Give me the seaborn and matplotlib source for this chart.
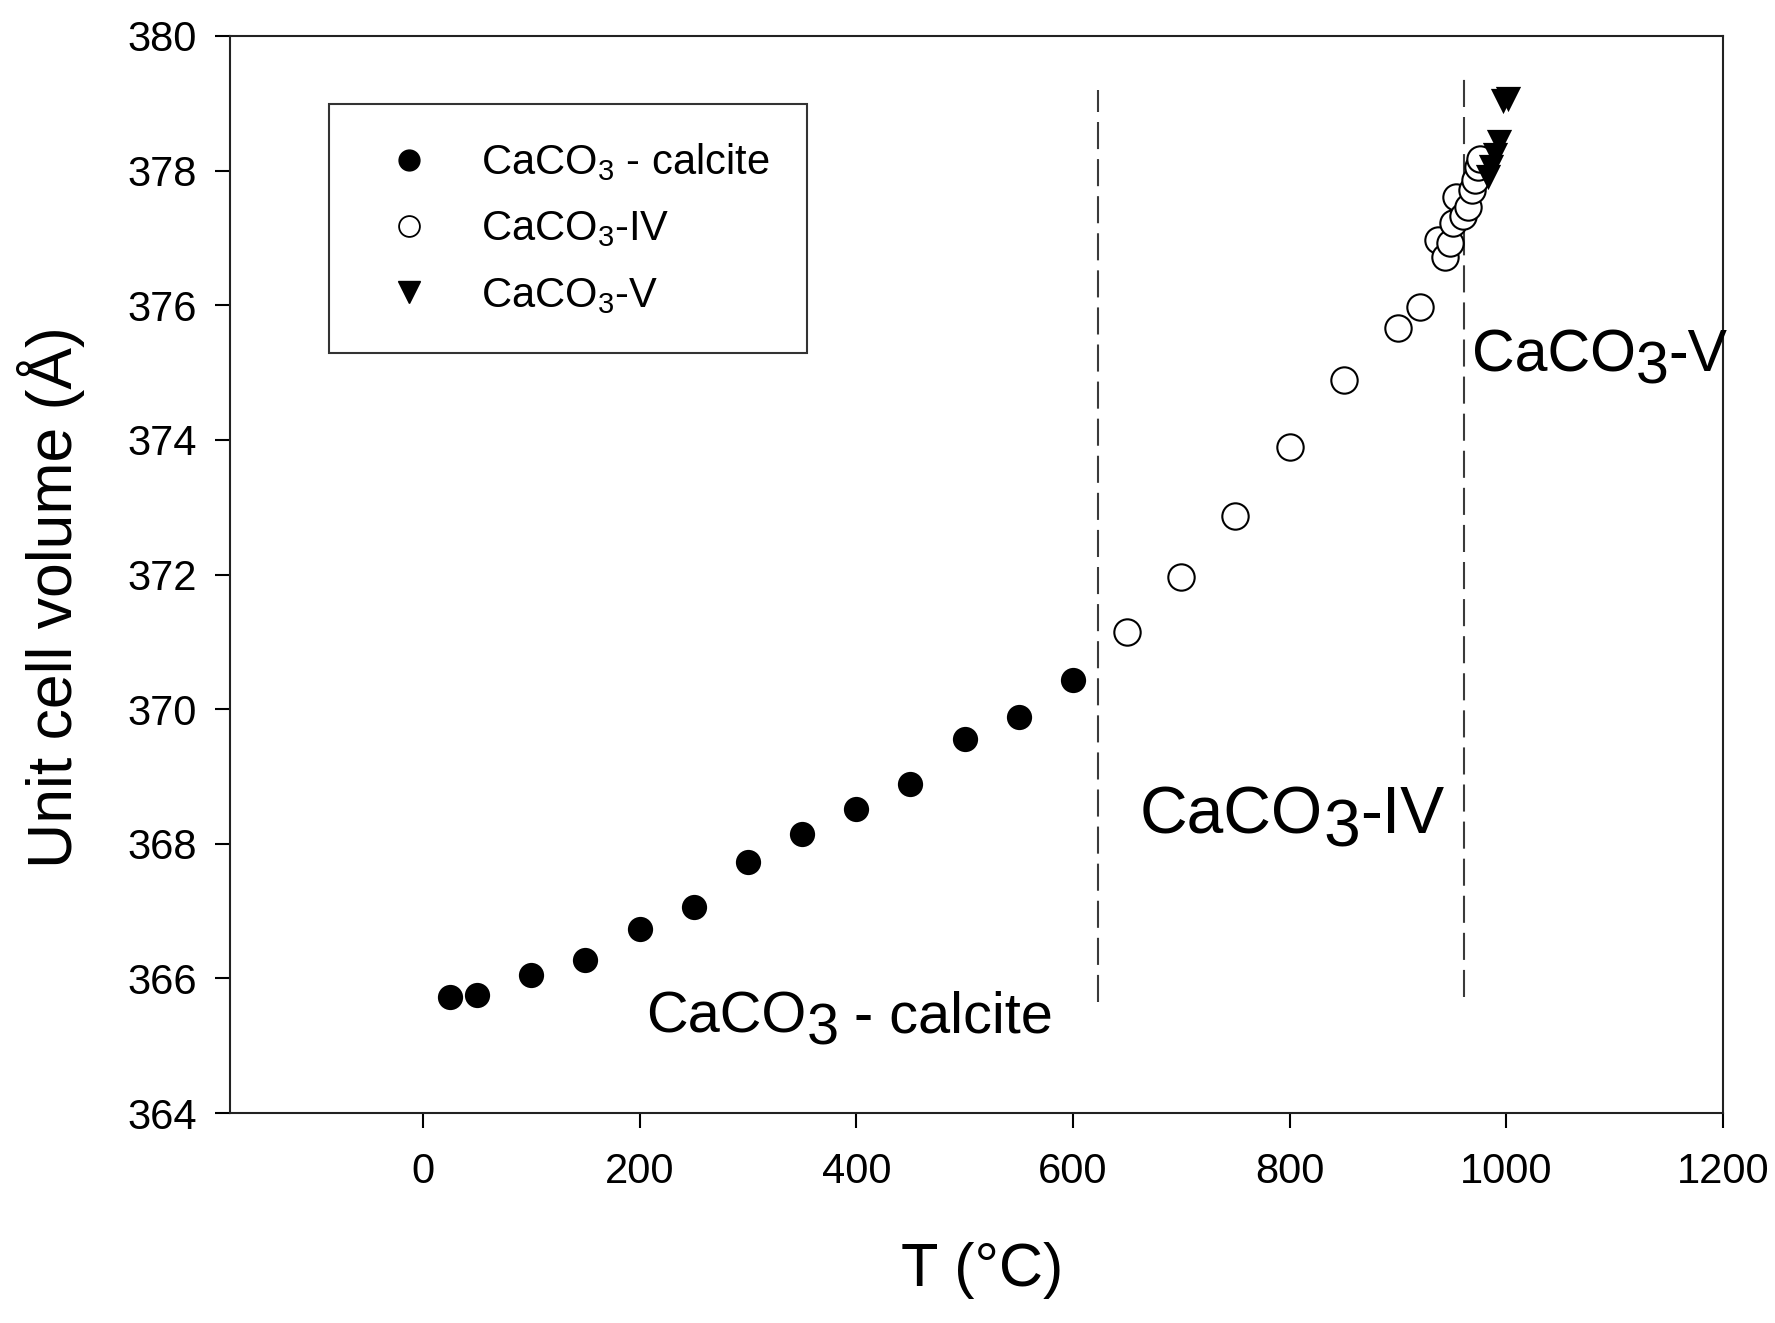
import numpy as np
import pandas as pd
import matplotlib
matplotlib.use("Agg")
import matplotlib.pyplot as plt
import seaborn as sns
from matplotlib.lines import Line2D

# ---- data ----
calcite_T = [25, 50, 100, 150, 200, 250, 300, 350, 400, 450, 500, 550, 600]
calcite_V = [365.73, 365.75, 366.05, 366.27, 366.74, 367.06, 367.73, 368.14,
             368.52, 368.89, 369.56, 369.89, 370.44]

iv_T = [650, 700, 750, 800, 850, 900, 920, 937, 943, 948, 951, 954, 960,
        965, 968, 971, 974, 976]
iv_V = [371.15, 371.96, 372.87, 373.89, 374.89, 375.66, 375.98, 376.97,
        376.72, 376.92, 377.22, 377.61, 377.32, 377.46, 377.71, 377.86,
        378.06, 378.18]

v_T = [983, 986, 990, 993, 997, 1002]
v_V = [377.91, 378.06, 378.23, 378.43, 379.03, 379.06]

boundary_T = [623, 961]
boundary_bottom = [365.65, 365.72]
boundary_top = [379.2, 379.45]

x_ticks = [0, 200, 400, 600, 800, 1000, 1200]
y_ticks = [364, 366, 368, 370, 372, 374, 376, 378, 380]

legend_labels = ["CaCO$_3$ - calcite", "CaCO$_3$-IV", "CaCO$_3$-V"]

# ---- style ----
sns.set_style("ticks")
plt.rcParams["font.family"] = ["Liberation Sans", "DejaVu Sans"]
plt.rcParams["mathtext.fontset"] = "custom"
plt.rcParams["mathtext.rm"] = "Liberation Sans"
plt.rcParams["mathtext.it"] = "Liberation Sans"
plt.rcParams["mathtext.default"] = "regular"
plt.rcParams["text.color"] = "black"
plt.rcParams["axes.labelcolor"] = "black"
plt.rcParams["xtick.color"] = "black"
plt.rcParams["ytick.color"] = "black"

fig = plt.figure(figsize=(17.75, 13.23), dpi=100)
ax = fig.add_axes([0.1296, 0.1587, 0.8411, 0.8141])

calc_df = pd.DataFrame({"T": calcite_T, "V": calcite_V})
iv_df = pd.DataFrame({"T": iv_T, "V": iv_V})
v_df = pd.DataFrame({"T": v_T, "V": v_V})

sns.scatterplot(data=calc_df, x="T", y="V", ax=ax, marker="o", s=330,
                color="black", edgecolor="black", linewidth=0, zorder=3)
sns.scatterplot(data=iv_df, x="T", y="V", ax=ax, marker="o", s=360,
                facecolor="white", edgecolor="black", linewidth=1.5, zorder=3)
sns.scatterplot(data=v_df, x="T", y="V", ax=ax, marker="v", s=330,
                color="black", edgecolor="black", linewidth=0, zorder=4)

for xb, y0, y1 in zip(boundary_T, boundary_bottom, boundary_top):
    ax.plot([xb, xb], [y0, y1], color="#3a3a3a", linewidth=1.5,
            dashes=(13, 4.8), zorder=2)

ax.set_xlim(-178, 1200)
ax.set_ylim(364, 380)
ax.set_xticks(x_ticks)
ax.set_yticks(y_ticks)
ax.tick_params(axis="both", direction="out", length=11, width=1.5,
               labelsize=30, colors="black")
ax.tick_params(axis="x", pad=17)
ax.tick_params(axis="y", pad=13)
for sp in ax.spines.values():
    sp.set_visible(True)
    sp.set_linewidth(1.5)
    sp.set_color("#222222")

ax.set_xlabel("T (°C)", fontsize=44, labelpad=36)
ax.set_ylabel("Unit cell volume (Å)", fontsize=45, labelpad=30)
ax.xaxis.label.set_x(0.504)
ax.yaxis.label.set_y(0.479)


def chem_label(x, y, prefix, sub, suffix, size, drop):
    t1 = ax.text(x, y, prefix, fontsize=size, va="baseline", ha="left")
    t2 = ax.annotate(sub, xy=(1, 0), xycoords=t1, xytext=(0, -drop),
                     textcoords="offset points", fontsize=size,
                     va="bottom", ha="left")
    ax.annotate(suffix, xy=(1, 0), xycoords=t2, xytext=(0, drop),
                textcoords="offset points", fontsize=size,
                va="bottom", ha="left")


chem_label(206, 365.2, "CaCO", "3", " - calcite", 41.5, 8.5)
chem_label(662, 368.16, "CaCO", "3", "-IV", 47.5, 9.5)
chem_label(968, 375.02, "CaCO", "3", "-V", 42.5, 9)

handles = [
    Line2D([], [], linestyle="none", marker="o", markersize=15,
           markerfacecolor="black", markeredgecolor="black"),
    Line2D([], [], linestyle="none", marker="o", markersize=15,
           markerfacecolor="white", markeredgecolor="black",
           markeredgewidth=1.3),
    Line2D([], [], linestyle="none", marker="v", markersize=16,
           markerfacecolor="black", markeredgecolor="black"),
]
leg = ax.legend(handles, legend_labels, loc="upper left",
                bbox_to_anchor=(0.0663, 0.937), borderaxespad=0,
                fontsize=30, frameon=True, fancybox=False, framealpha=1,
                edgecolor="#333333", borderpad=0.9, handlelength=2.06,
                handletextpad=0.68, labelspacing=0.63)
leg.get_frame().set_linewidth(1.5)

fig.savefig("out.png", dpi=100, facecolor="white")
